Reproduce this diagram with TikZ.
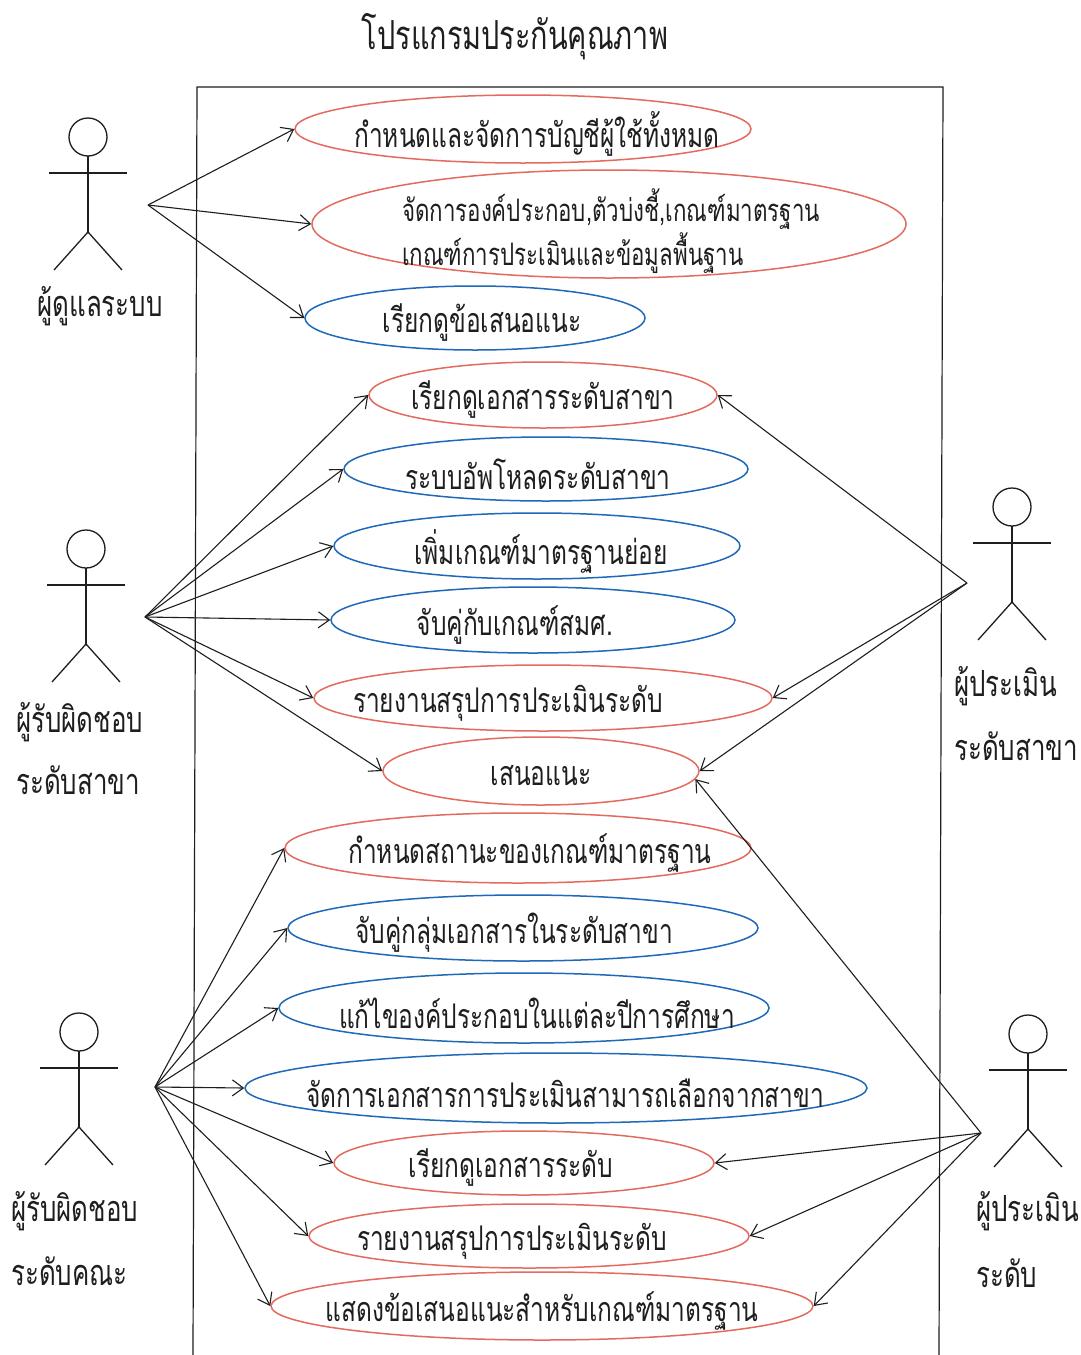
\documentclass[tikz,border=0pt]{standalone}
\usepackage{fontspec}
\newfontfamily\thai[Script=Thai, FakeStretch=0.72]{Loma}
\usetikzlibrary{shapes.geometric,arrows.meta}
\definecolor{ucred}{RGB}{228,106,94}
\definecolor{ucblue}{RGB}{32,104,184}
\definecolor{ink}{RGB}{30,30,30}
\tikzset{
  ucshape/.style={ellipse, draw, line width=1.5pt, inner sep=0pt},
  ucr/.style={ucshape, draw=ucred},
  ucb/.style={ucshape, draw=ucblue},
  uctext/.style={font=\thai\fontsize{34}{45}\selectfont, text=ink, inner sep=0pt, yshift=-5pt},
  assoc/.style={draw=ink, line width=1.1pt, -{Straight Barb[length=11pt,width=16pt,line width=1.1pt]}},
  actorlbl/.style={font=\thai\fontsize{36}{38}\selectfont, text=ink, inner sep=0pt},
  actorline/.style={draw=ink, line width=1.3pt},
  actor/.pic={
    \draw[actorline] (0,0) circle[radius=19pt];
    \draw[actorline] (-39,36) -- (39,36);
    \draw[actorline] (0,19) -- (0,95);
    \draw[actorline] (-34,133) -- (0,95) -- (34,133);
  }
}
\begin{document}
\begin{tikzpicture}[x=1pt,y=-1pt]
\useasboundingbox (0,0) rectangle (1081,1355);
\fill[white] (0,0) rectangle (1081,1355);

% title
\node[font=\thai\fontsize{40}{44}\selectfont, text=ink] (title) at (515,37) {โปรแกรมประกันคุณภาพ};

% system boundary
\draw[ink, line width=1.2pt] (193,1355) -- (197,87) -- (943,87) -- (939,1355);

% actors
\pic at (88,137) {actor};
\pic at (86,549) {actor};
\pic at (1012,507) {actor};
\pic at (79,1032) {actor};
\pic at (1028,1034) {actor};

\node[actorlbl] (l1) at (100,306) {ผู้ดูแลระบบ};
\node[actorlbl, anchor=west] (l2a) at (16,722) {ผู้รับผิดชอบ};
\node[actorlbl, anchor=west] (l2b) at (16,780) {ระดับสาขา};
\node[actorlbl, anchor=west] (l4a) at (954,686) {ผู้ประเมิน};
\node[actorlbl, anchor=west] (l4b) at (954,746) {ระดับสาขา};
\node[actorlbl, anchor=west] (l3a) at (11,1211) {ผู้รับผิดชอบ};
\node[actorlbl, anchor=west] (l3b) at (11,1271) {ระดับคณะ};
\node[actorlbl, anchor=west] (l5a) at (976,1211) {ผู้ประเมิน};
\node[actorlbl, anchor=west] (l5b) at (976,1273) {ระดับ};

% actor connection points
\coordinate (a1) at (148,205);
\coordinate (a2) at (145,617);
\coordinate (a4) at (967,583);
\coordinate (a3) at (155,1087);
\coordinate (a5) at (981,1133);

% use cases
\node[ucr, minimum width=456pt, minimum height=68pt, label={[uctext, xshift=14pt]center:กำหนดและจัดการบัญชีผู้ใช้ทั้งหมด}] (uc1) at (523,129) {};
\node[ucr, minimum width=594pt, minimum height=108pt, label={[uctext, align=left, font=\thai\fontsize{31}{44}\selectfont, xshift=2pt, yshift=-2pt]center:จัดการองค์ประกอบ,ตัวบ่งชี้,เกณฑ์มาตรฐาน\\เกณฑ์การประเมินและข้อมูลพื้นฐาน}] (uc2) at (609,224) {};
\node[ucb, minimum width=340pt, minimum height=64pt, label={[uctext, xshift=7pt]center:เรียกดูข้อเสนอแนะ}] (uc3) at (475,318) {};
\node[ucr, minimum width=348pt, minimum height=66pt, label={[uctext]center:เรียกดูเอกสารระดับสาขา}] (uc4) at (543,395) {};
\node[ucb, minimum width=404pt, minimum height=64pt, label={[uctext, xshift=-8pt]center:ระบบอัพโหลดระดับสาขา}] (uc5) at (546,469) {};
\node[ucb, minimum width=406pt, minimum height=66pt, label={[uctext, xshift=4pt]center:เพิ่มเกณฑ์มาตรฐานย่อย}] (uc6) at (537,546) {};
\node[ucb, minimum width=404pt, minimum height=66pt, label={[uctext, xshift=-18pt]center:จับคู่กับเกณฑ์สมศ.}] (uc7) at (533,620) {};
\node[ucr, minimum width=458pt, minimum height=66pt, label={[uctext, xshift=-35pt]center:รายงานสรุปการประเมินระดับ}] (uc8) at (543,698) {};
\node[ucr, minimum width=316pt, minimum height=68pt, label={[uctext]center:เสนอแนะ}] (uc9) at (541,771) {};
\node[ucr, minimum width=466pt, minimum height=70pt, label={[uctext, xshift=12pt]center:กำหนดสถานะของเกณฑ์มาตรฐาน}] (uc10) at (518,848) {};
\node[ucb, minimum width=470pt, minimum height=66pt, label={[uctext, xshift=-9pt]center:จับคู่กลุ่มเอกสารในระดับสาขา}] (uc11) at (523,928) {};
\node[ucb, minimum width=490pt, minimum height=70pt, label={[uctext, xshift=13pt]center:แก้ไของค์ประกอบในแต่ละปีการศึกษา}] (uc12) at (524,1008) {};
\node[ucb, minimum width=622pt, minimum height=70pt, label={[uctext, xshift=9pt]center:จัดการเอกสารการประเมินสามารถเลือกจากสาขา}] (uc13) at (556,1088) {};
\node[ucr, minimum width=380pt, minimum height=64pt, label={[uctext, xshift=-13pt]center:เรียกดูเอกสารระดับ}] (uc14) at (524,1163) {};
\node[ucr, minimum width=440pt, minimum height=64pt, label={[uctext, xshift=-17pt]center:รายงานสรุปการประเมินระดับ}] (uc15) at (529,1236) {};
\node[ucr, minimum width=542pt, minimum height=68pt, label={[uctext]center:แสดงข้อเสนอแนะสำหรับเกณฑ์มาตรฐาน}] (uc16) at (542,1306) {};

% associations
\foreach \u in {uc1,uc2,uc3} \draw[assoc] (a1) -- (\u.west);
\foreach \u in {uc4,uc5,uc6,uc7,uc8,uc9} \draw[assoc] (a2) -- (\u.west);
\foreach \u in {uc4,uc8,uc9} \draw[assoc] (a4) -- (\u.east);
\foreach \u in {uc10,uc11,uc12,uc13,uc14,uc15,uc16} \draw[assoc] (a3) -- (\u.west);
\draw[assoc] (a5) -- (uc9.-3);
\foreach \u in {uc14,uc15,uc16} \draw[assoc] (a5) -- (\u.east);
\end{tikzpicture}
\end{document}
